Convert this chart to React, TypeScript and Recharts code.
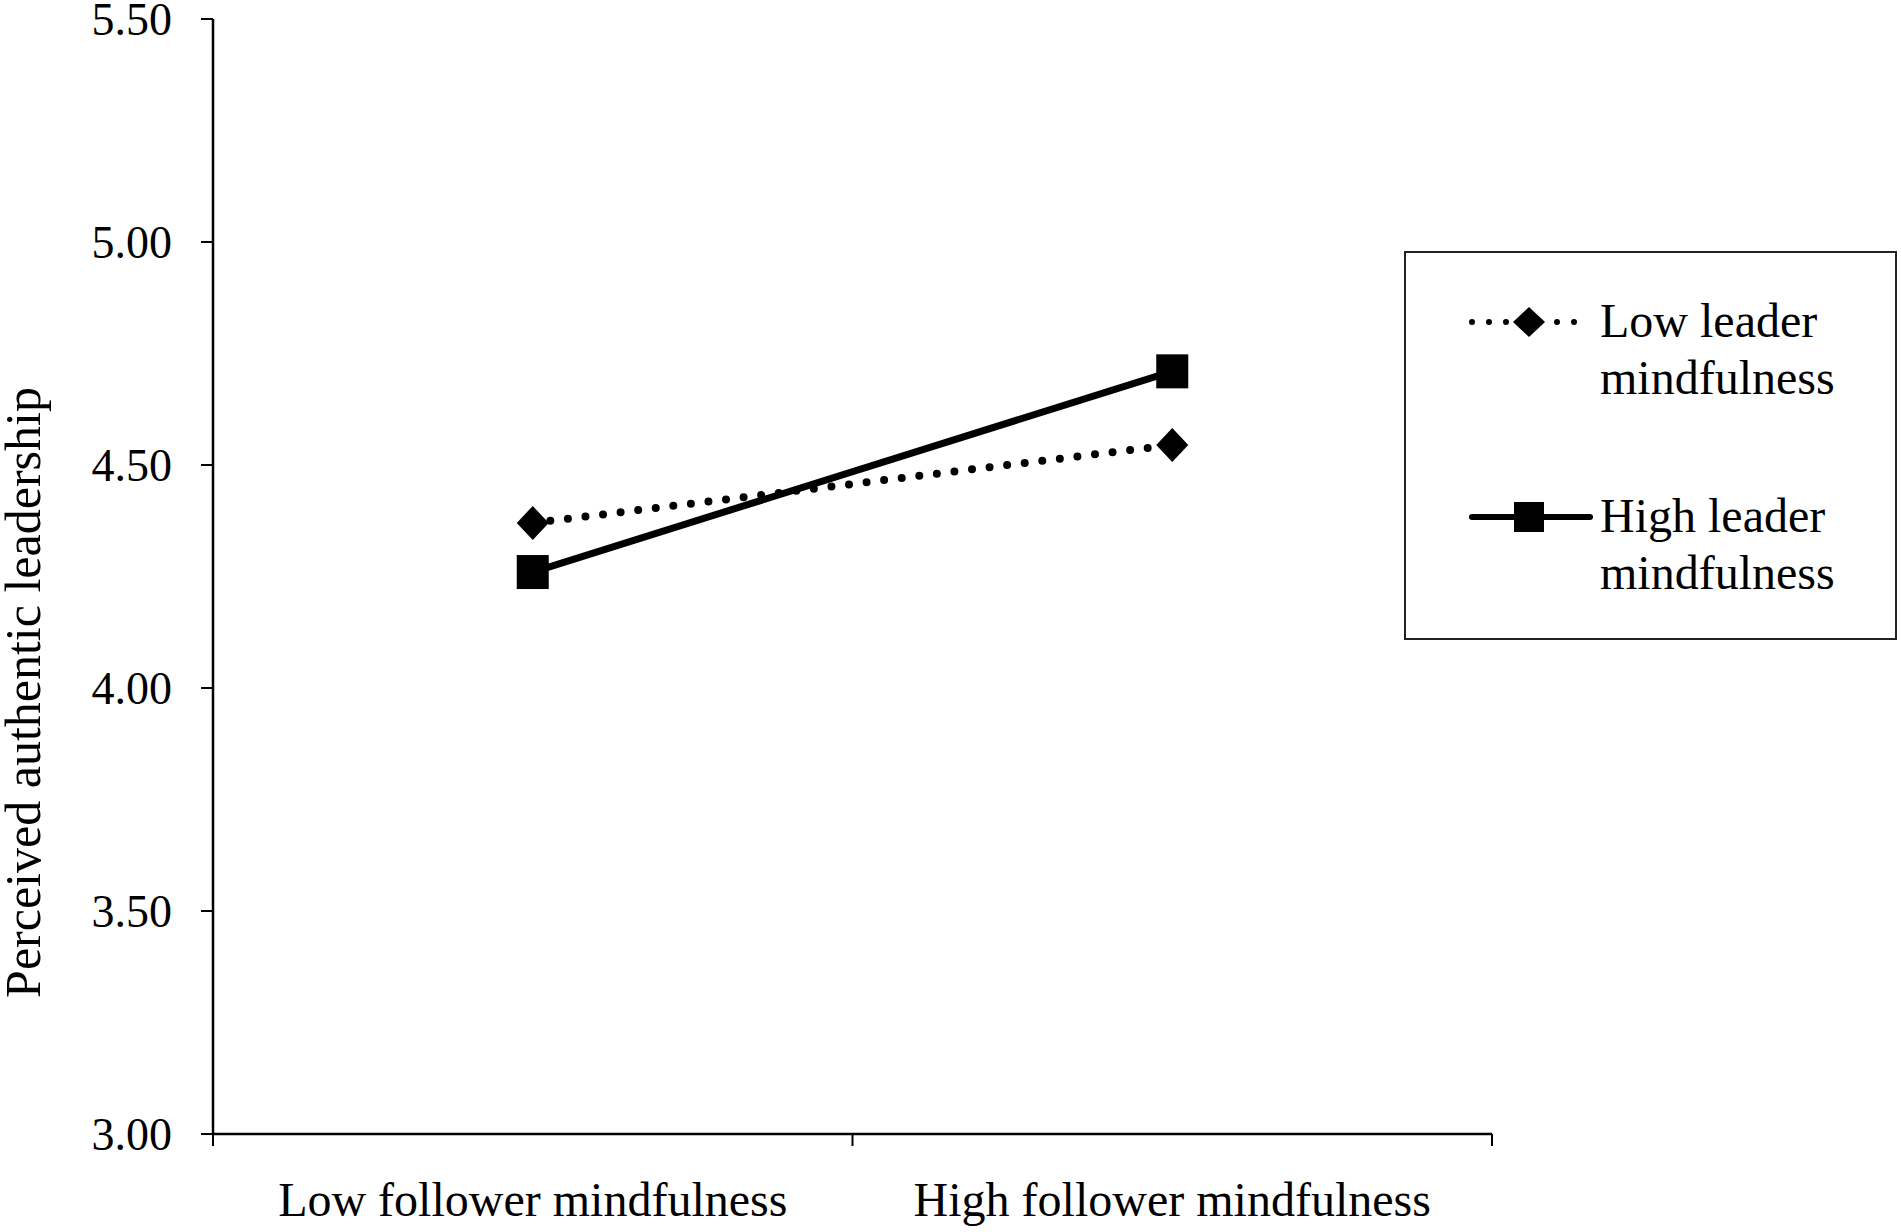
import { LineChart, Line, XAxis, YAxis, Legend, Label } from "recharts";

const categories = ["Low follower mindfulness", "High follower mindfulness"];
const lowLeader = [4.37, 4.545];
const highLeader = [4.26, 4.71];
const seriesNames = ["Low leader mindfulness", "High leader mindfulness"];
const yTicks = [3.0, 3.5, 4.0, 4.5, 5.0, 5.5];

const data = categories.map((c, i) => ({
  category: c,
  low: lowLeader[i],
  high: highLeader[i],
}));

const FONT = "'Liberation Serif', 'Times New Roman', serif";
const X_TICK_MARGIN = 48;
const X_TICK_LEN = 12;

function Diamond(props: any) {
  const { cx, cy, w = 16, h = 17 } = props;
  if (cx == null || cy == null) return null;
  return (
    <polygon
      points={`${cx},${cy - h} ${cx + w},${cy} ${cx},${cy + h} ${cx - w},${cy}`}
      fill="#000"
    />
  );
}

function Square(props: any) {
  const { cx, cy, w = 16, h = 17 } = props;
  if (cx == null || cy == null) return null;
  return <rect x={cx - w} y={cy - h} width={w * 2} height={h * 2} fill="#000" />;
}

// category label plus tick marks on the band edges
function CategoryTick(props: any) {
  const { x, y, payload, index, visibleTicksCount } = props;
  const half = payload?.offset ?? 0;
  const axisY = y - X_TICK_MARGIN;
  const isLast = index === (visibleTicksCount ?? categories.length) - 1;
  return (
    <g>
      <line x1={x - half} y1={axisY} x2={x - half} y2={axisY + X_TICK_LEN} stroke="#000" strokeWidth={2} />
      {isLast && (
        <line x1={x + half} y1={axisY} x2={x + half} y2={axisY + X_TICK_LEN} stroke="#000" strokeWidth={2} />
      )}
      <text x={x} y={y} dy="0.71em" textAnchor="middle" fontSize={48} fontFamily={FONT} fill="#000">
        {payload.value}
      </text>
    </g>
  );
}

function LegendBox({ payload }: any) {
  const items = [...(payload ?? [])].sort(
    (a: any, b: any) => seriesNames.indexOf(a.value) - seriesNames.indexOf(b.value)
  );
  return (
    <svg width={493} height={389} style={{ display: "block" }}>
      <rect x={1} y={1} width={491} height={387} fill="#fff" stroke="#222" strokeWidth={2} />
      {items.map((entry: any, i: number) => {
        const cy = 71 + i * 195;
        const words = String(entry.value).split(" ");
        const line1 = words.slice(0, 2).join(" ");
        const line2 = words.slice(2).join(" ");
        const dotted = entry.dataKey === "low";
        return (
          <g key={entry.value}>
            <line
              x1={68}
              y1={cy}
              x2={dotted ? 178 : 186}
              y2={cy}
              stroke="#000"
              strokeWidth={dotted ? 6 : 6}
              strokeLinecap="round"
              strokeDasharray={dotted ? "0 17" : undefined}
            />
            {dotted ? (
              <Diamond cx={125} cy={cy} w={16} h={15} />
            ) : (
              <Square cx={125} cy={cy} w={15} h={15} />
            )}
            <text x={196} y={cy + 15} fontSize={48} fontFamily={FONT} fill="#000">
              {line1}
            </text>
            <text x={196} y={cy + 72} fontSize={48} fontFamily={FONT} fill="#000">
              {line2}
            </text>
          </g>
        );
      })}
    </svg>
  );
}

function YLabel(props: any) {
  const { viewBox } = props;
  const cx = 40;
  const cy = viewBox.y + viewBox.height / 2 + 116;
  return (
    <text
      x={cx}
      y={cy}
      transform={`rotate(-90, ${cx}, ${cy})`}
      textAnchor="middle"
      fontSize={50}
      fontFamily={FONT}
      fill="#000"
    >
      Perceived authentic leadership
    </text>
  );
}

export default function App() {
  return (
    <div style={{ position: "absolute", left: 0, top: 0, background: "#fff" }}>
      <LineChart
        width={1901}
        height={1232}
        data={data}
        margin={{ top: 19, right: 409, bottom: 0, left: 0 }}
        style={{ fontFamily: FONT }}
      >
        <XAxis
          dataKey="category"
          scale="band"
          height={98}
          axisLine={{ stroke: "#000", strokeWidth: 2.5 }}
          tickLine={false}
          tickSize={0}
          tickMargin={X_TICK_MARGIN}
          interval={0}
          tick={<CategoryTick />}
        />
        <YAxis
          width={213}
          domain={[3, 5.5]}
          ticks={yTicks}
          interval={0}
          allowDataOverflow
          axisLine={{ stroke: "#000", strokeWidth: 2.5 }}
          tickLine={{ stroke: "#000", strokeWidth: 2 }}
          tickSize={12}
          tickMargin={29}
          tickFormatter={(v: number) => v.toFixed(2)}
          tick={{ fill: "#000", fontSize: 46, fontFamily: FONT }}
        >
          <Label content={<YLabel />} />
        </YAxis>
        <Legend
          layout="horizontal"
          verticalAlign="middle"
          align="center"
          content={<LegendBox />}
          wrapperStyle={{ left: 1404, top: 251, width: 493, height: 389 }}
        />
        <Line
          name={seriesNames[0]}
          dataKey="low"
          stroke="#000"
          strokeWidth={8}
          strokeDasharray="0 17.7"
          strokeLinecap="round"
          dot={(p: any) => <Diamond key={`d-${p.index}`} cx={p.cx} cy={p.cy} />}
          activeDot={false}
          isAnimationActive={false}
        />
        <Line
          name={seriesNames[1]}
          dataKey="high"
          stroke="#000"
          strokeWidth={7}
          dot={(p: any) => <Square key={`s-${p.index}`} cx={p.cx} cy={p.cy} />}
          activeDot={false}
          isAnimationActive={false}
        />
      </LineChart>
    </div>
  );
}
